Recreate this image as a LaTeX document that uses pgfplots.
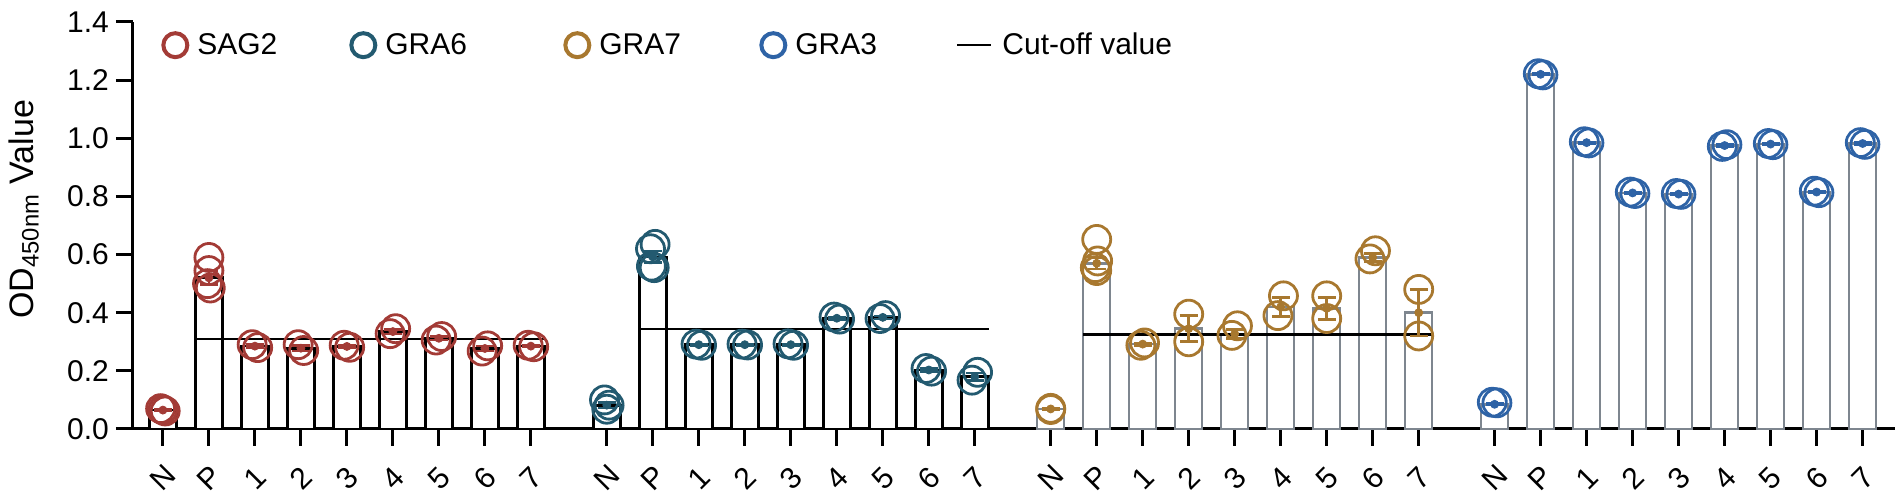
\documentclass[border=0pt]{standalone}
\usepackage{fontspec}
\setmainfont{Liberation Sans}
\usepackage{pgfplots}
\pgfplotsset{compat=1.18}
\definecolor{sag}{HTML}{A33B36}
\definecolor{gsix}{HTML}{235A70}
\definecolor{gseven}{HTML}{A8782F}
\definecolor{gthree}{HTML}{2E63A6}
\definecolor{barg}{HTML}{7E868F}
\pgfplotsset{
  pts/.style={only marks, mark=o, mark size=7pt, mark options={line width=1.4pt}, forget plot},
  errs/.style={only marks, mark=none, forget plot, error bars/y dir=both, error bars/y explicit,
     error bars/error bar style={line width=1.3pt, #1}, error bars/error mark options={rotate=90, mark size=4.5pt, line width=1.3pt, #1}},
  bars/.style={ybar, bar width=13.5pt, bar shift=0pt, fill=white, forget plot},
}
\begin{document}
\begin{tikzpicture}
\path[use as bounding box] (0,0) rectangle (951pt,248.5pt);
\begin{axis}[
  at={(66.5pt,34pt)}, anchor=south west,
  x=23pt, y=145.36pt,
  xmin=-0.65, xmax=37.65, ymin=0, ymax=1.4,
  axis lines=left,
  axis line style={-, line width=1.5pt},
  tick align=outside, major tick length=8.5pt,
  tick style={line width=1.5pt, black},
  ytick={0,0.2,0.4,0.6,0.8,1.0,1.2,1.4},
  yticklabel style={/pgf/number format/.cd, fixed, fixed zerofill, precision=1, assume math mode=true},
  tick label style={font=\fontsize{15}{17}\selectfont},
  xtick={0,1,2,3,4,5,6,7,8,9.65,10.65,11.65,12.65,13.65,14.65,15.65,16.65,17.65,19.3,20.3,21.3,22.3,23.3,24.3,25.3,26.3,27.3,28.95,29.95,30.95,31.95,32.95,33.95,34.95,35.95,36.95},
  xticklabels={N,P,1,2,3,4,5,6,7,N,P,1,2,3,4,5,6,7,N,P,1,2,3,4,5,6,7,N,P,1,2,3,4,5,6,7},
  xticklabel style={anchor=center, yshift=-16pt, rotate=45},
  ylabel={OD\textsubscript{450nm} Value},
  every axis y label/.style={at={(axis description cs:-0.0619,0.54)}, rotate=90, anchor=center, font=\fontsize{17}{20}\selectfont},
  clip=false,
  legend columns=5,
  legend style={draw=none, fill=none, at={(axis description cs:0.017,0.943)}, anchor=west,
    font=\fontsize{15}{17}\selectfont, inner sep=0pt,
    /tikz/every odd column/.append style={column sep=3pt}},
  legend cell align=left,
]
% ---------------- bars
\addplot[bars, draw=black, line width=1.35pt] coordinates {(0,0.065) (1,0.52) (2,0.285) (3,0.278) (4,0.284) (5,0.335) (6,0.312) (7,0.277) (8,0.285)};
\addplot[bars, draw=black, line width=1.35pt] coordinates {(9.65,0.082) (10.65,0.592) (11.65,0.29) (12.65,0.29) (13.65,0.29) (14.65,0.381) (15.65,0.384) (16.65,0.203) (17.65,0.18)};
\addplot[bars, draw=barg, line width=1.25pt] coordinates {(19.3,0.069) (20.3,0.57) (21.3,0.292) (22.3,0.345) (23.3,0.327) (24.3,0.42) (25.3,0.415) (26.3,0.59) (27.3,0.40)};
\addplot[bars, draw=barg, line width=1.25pt] coordinates {(28.95,0.085) (29.95,1.22) (30.95,0.985) (31.95,0.812) (32.95,0.808) (33.95,0.975) (34.95,0.98) (35.95,0.815) (36.95,0.982)};
% ---------------- cut-off lines
\addplot[black, line width=1.3pt, forget plot] coordinates {(0.74,0.309) (8.3,0.309)};
\addplot[black, line width=1.3pt, forget plot] coordinates {(10.35,0.344) (17.95,0.344)};
\addplot[black, line width=1.3pt, forget plot] coordinates {(20.0,0.325) (27.6,0.325)};
% ---------------- points
\addplot[pts, sag] coordinates {(-0.05,0.07) (0.05,0.062) (0,0.066)
 (1,0.59) (1,0.545) (0.97,0.50) (1.03,0.485)
 (1.94,0.29) (2.06,0.28) (2.94,0.29) (3.06,0.27) (3.94,0.288) (4.06,0.281)
 (5.06,0.345) (4.94,0.328) (6.06,0.318) (5.94,0.306) (7.06,0.286) (6.94,0.268) (7.94,0.288) (8.06,0.283)};
\addplot[pts, gsix] coordinates {(9.6,0.10) (9.7,0.082) (9.65,0.068)
 (10.7,0.635) (10.6,0.62) (10.62,0.56) (10.68,0.555)
 (11.59,0.292) (11.71,0.288) (12.59,0.292) (12.71,0.289) (13.59,0.293) (13.71,0.288)
 (14.59,0.385) (14.71,0.378) (15.71,0.39) (15.59,0.38) (16.59,0.208) (16.71,0.199) (17.71,0.195) (17.59,0.168)};
\addplot[pts, gseven] coordinates {(19.3,0.071) (19.3,0.067)
 (20.3,0.652) (20.32,0.578) (20.27,0.555) (20.3,0.545)
 (21.34,0.296) (21.26,0.288) (22.3,0.395) (22.3,0.30) (23.36,0.355) (23.24,0.322)
 (24.36,0.458) (24.24,0.39) (25.3,0.458) (25.3,0.38) (26.36,0.613) (26.24,0.585) (27.3,0.48) (27.3,0.32)};
\addplot[pts, gthree] coordinates {(28.9,0.092) (29.0,0.09)
 (29.9,1.222) (30.0,1.218) (30.9,0.988) (31.0,0.984) (31.9,0.815) (32.0,0.81) (32.9,0.81) (33.0,0.807)
 (33.9,0.972) (34.0,0.978) (34.9,0.982) (35.0,0.978) (35.9,0.818) (36.0,0.813) (36.9,0.985) (37.0,0.979)};
% ---------------- error bars (mean +- SEM)
\addplot[sag, errs=sag] coordinates {(0,0.065) +- (0,0.003) (1,0.52) +- (0,0.024) (2,0.285) +- (0,0.005) (3,0.278) +- (0,0.01) (4,0.284) +- (0,0.004) (5,0.335) +- (0,0.008) (6,0.312) +- (0,0.006) (7,0.277) +- (0,0.009) (8,0.285) +- (0,0.003)};
\addplot[gsix, errs=gsix] coordinates {(9.65,0.082) +- (0,0.01) (10.65,0.592) +- (0,0.02) (11.65,0.29) +- (0,0.002) (12.65,0.29) +- (0,0.002) (13.65,0.29) +- (0,0.003) (14.65,0.381) +- (0,0.004) (15.65,0.384) +- (0,0.005) (16.65,0.203) +- (0,0.005) (17.65,0.18) +- (0,0.013)};
\addplot[gseven, errs=gseven] coordinates {(19.3,0.069) +- (0,0.002) (20.3,0.57) +- (0,0.02) (21.3,0.292) +- (0,0.004) (22.3,0.345) +- (0,0.045) (23.3,0.327) +- (0,0.016) (24.3,0.42) +- (0,0.033) (25.3,0.415) +- (0,0.038) (26.3,0.59) +- (0,0.014) (27.3,0.40) +- (0,0.08)};
\addplot[gthree, errs=gthree] coordinates {(28.95,0.085) +- (0,0.002) (29.95,1.22) +- (0,0.003) (30.95,0.985) +- (0,0.002) (31.95,0.812) +- (0,0.003) (32.95,0.808) +- (0,0.002) (33.95,0.975) +- (0,0.003) (34.95,0.98) +- (0,0.002) (35.95,0.815) +- (0,0.003) (36.95,0.982) +- (0,0.003)};
% ---------------- legend
\addlegendimage{only marks, mark=o, mark size=6pt, mark options={line width=2pt}, sag}
\addlegendentry{\makebox[75pt][l]{SAG2}}
\addlegendimage{only marks, mark=o, mark size=6pt, mark options={line width=2pt}, gsix}
\addlegendentry{\makebox[88pt][l]{GRA6}}
\addlegendimage{only marks, mark=o, mark size=6pt, mark options={line width=2pt}, gseven}
\addlegendentry{\makebox[79pt][l]{GRA7}}
\addlegendimage{only marks, mark=o, mark size=6pt, mark options={line width=2pt}, gthree}
\addlegendentry{\makebox[78.5pt][l]{GRA3}}
\addlegendimage{black, line width=1pt}
\addlegendentry{Cut-off value}
\end{axis}
\end{tikzpicture}
\end{document}
